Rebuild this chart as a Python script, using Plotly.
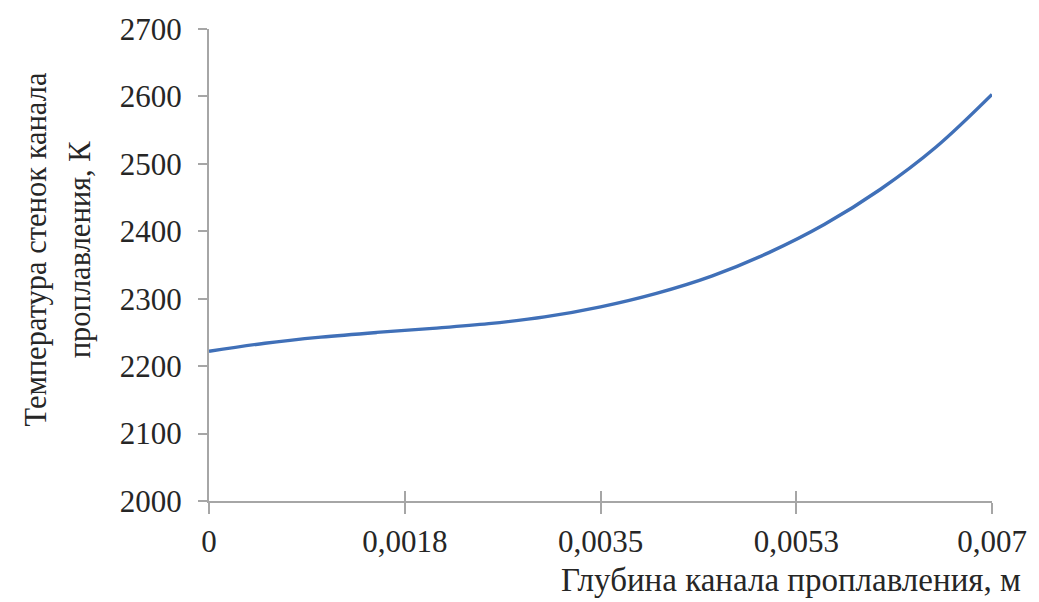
import plotly.graph_objects as go

# Channel depth, m
depth = [0.0, 0.0005, 0.001, 0.0015, 0.002, 0.0025, 0.003, 0.0035,
         0.004, 0.0045, 0.005, 0.0055, 0.006, 0.0065, 0.007]
# Wall temperature of the channel, K
temperature = [2222, 2234, 2243, 2250, 2256, 2263, 2273, 2288,
               2308, 2334, 2368, 2410, 2462, 2525, 2603]

x_tickvals = [0.0, 0.00175, 0.0035, 0.00525, 0.007]
x_ticktext = ["0", "0,0018", "0,0035", "0,0053", "0,007"]

FONT = "Liberation Serif"
AXIS_GRAY = "#A6A6A6"
TEXT = "#262626"

fig = go.Figure()
fig.add_trace(go.Scatter(
    x=depth, y=temperature, mode="lines",
    line=dict(color="#4070B8", width=3.4, shape="spline", smoothing=1.0),
    showlegend=False, hoverinfo="x+y",
))
# helper trace so the overlaid axis (inner half of the crossing ticks) is drawn
fig.add_trace(go.Scatter(
    x=[depth[0], depth[-1]], y=[temperature[0], temperature[-1]],
    xaxis="x2", mode="lines", line=dict(width=0, color="rgba(0,0,0,0)"),
    showlegend=False, hoverinfo="skip",
))

fig.update_layout(
    width=1039, height=602,
    margin=dict(l=209, r=42, t=28, b=101),
    plot_bgcolor="white", paper_bgcolor="white",
    font=dict(family=FONT, size=30, color=TEXT),
    xaxis=dict(
        range=[0, 0.007], tickvals=x_tickvals, ticktext=x_ticktext,
        showgrid=False, zeroline=False, showline=True, linecolor=AXIS_GRAY,
        linewidth=2, ticks="outside", ticklen=11, tickwidth=1.5,
        tickcolor=AXIS_GRAY, ticklabelstandoff=1,
        tickfont=dict(family=FONT, size=31, color=TEXT),
    ),
    xaxis2=dict(
        range=[0, 0.007], tickvals=x_tickvals, overlaying="x", anchor="y",
        side="bottom", showgrid=False, zeroline=False, showline=False,
        ticks="inside", ticklen=10, tickwidth=1.5, tickcolor=AXIS_GRAY,
        showticklabels=False,
    ),
    yaxis=dict(
        range=[2000, 2700], dtick=100, showgrid=False, zeroline=False,
        showline=True, linecolor=AXIS_GRAY, linewidth=2, ticks="outside",
        ticklen=9, tickwidth=1.5, tickcolor=AXIS_GRAY, ticklabelstandoff=10,
        tickfont=dict(family=FONT, size=31, color=TEXT),
    ),
    annotations=[
        dict(text="Глубина канала проплавления, м", xref="paper", yref="paper",
             x=1.039, y=-0.167, xanchor="right", yanchor="middle",
             showarrow=False, font=dict(family=FONT, size=33, color=TEXT)),
        dict(text="Температура стенок канала", xref="paper", yref="paper",
             x=-0.2208, y=0.533, xanchor="center", yanchor="middle",
             textangle=-90, showarrow=False,
             font=dict(family=FONT, size=30.5, color=TEXT)),
        dict(text="проплавления, К", xref="paper", yref="paper",
             x=-0.1637, y=0.533, xanchor="center", yanchor="middle",
             textangle=-90, showarrow=False,
             font=dict(family=FONT, size=30.5, color=TEXT)),
    ],
)

fig.write_html("out.html")
